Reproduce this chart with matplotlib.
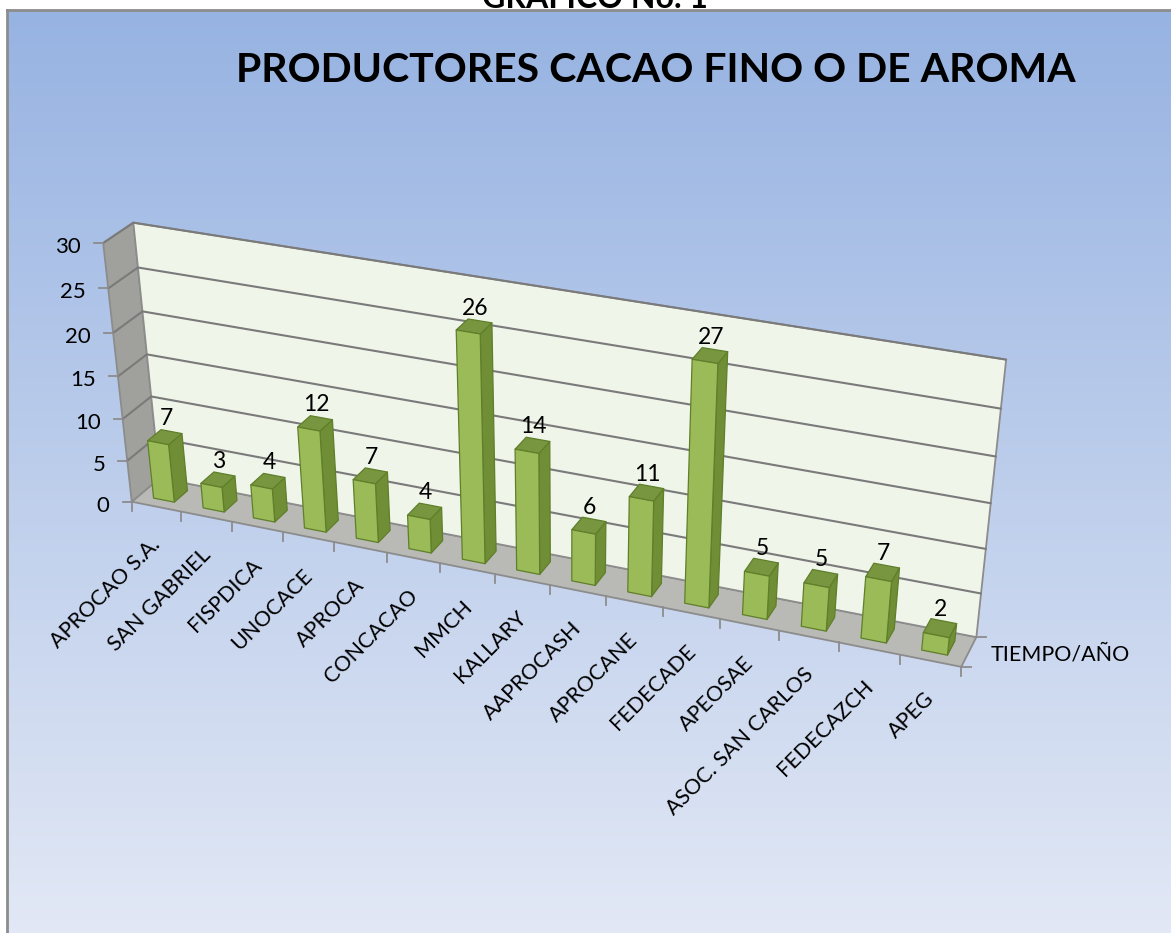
import numpy as np
import matplotlib.pyplot as plt
from matplotlib.patches import Polygon
from matplotlib.colors import LinearSegmentedColormap

# Datos del gráfico
productores = ['APROCAO S.A.', 'SAN GABRIEL', 'FISPDICA', 'UNOCACE', 'APROCA', 'CONCACAO',
               'MMCH', 'KALLARY', 'AAPROCASH', 'APROCANE', 'FEDECADE', 'APEOSAE',
               'ASOC. SAN CARLOS', 'FEDECAZCH', 'APEG']
valores = [7, 3, 4, 12, 7, 4, 26, 14, 6, 11, 27, 5, 5, 7, 2]
ticks_y = [0, 5, 10, 15, 20, 25, 30]
serie = 'TIEMPO/AÑO'
titulo = 'PRODUCTORES CACAO FINO O DE AROMA'
encabezado = 'GRAFICO No. 1'

W, H = 1171, 933
ymax = ticks_y[-1]
n = len(productores)

# Calibración de la cámara 3D (cubo unitario -> píxeles de la figura)
anclas_3d = [(0, 0, 0), (0, 1, 0), (0, 0, 1), (0, 1, 1), (1, 0, 0), (1, 1, 0), (1, 1, 1),
             (1/3, 0, 0), (2/3, 0, 0)]
anclas_px = [(131.7, 501), (160, 480), (104, 243), (132.7, 221.7), (961.7, 668),
             (976.7, 635), (1006, 360.7), (386.5, 552), (661.9, 607.6)]

A, b = [], []
for (X, Y, Z), (u, v) in zip(anclas_3d, anclas_px):
    A.append([X, Y, Z, 1, 0, 0, 0, 0, -u*X, -u*Y, -u*Z]); b.append(u)
    A.append([0, 0, 0, 0, X, Y, Z, 1, -v*X, -v*Y, -v*Z]); b.append(v)
p = np.linalg.lstsq(np.array(A), np.array(b), rcond=None)[0]
P = np.append(p, 1).reshape(3, 4)


def proy(x, prof, z):
    h = P @ np.array([x, prof, z, 1.0])
    return h[0] / h[2], h[1] / h[2]


def poligono(ax, puntos, color, borde, lw=1.0, z=2):
    ax.add_patch(Polygon([proy(*q) for q in puntos], closed=True, facecolor=color,
                         edgecolor=borde, linewidth=lw, joinstyle='round', zorder=z))


fig = plt.figure(figsize=(W / 100, H / 100), dpi=100)
fig.patch.set_facecolor('white')
ax = fig.add_axes([0, 0, 1, 1])
ax.set_xlim(0, W)
ax.set_ylim(H, 0)
ax.axis('off')

plt.rcParams['font.family'] = ['Lato', 'DejaVu Sans']

# fondo degradado del área del gráfico
fondo = LinearSegmentedColormap.from_list('fondo', ['#97B3E2', '#E2E8F5'])
ax.imshow(np.linspace(0, 1, 256)[:, None], extent=(7, W, H, 10), cmap=fondo,
          aspect='auto', zorder=0)
ax.plot([7, 7], [H, 10], color='#8C8C8C', lw=2, zorder=1)
ax.plot([7, W], [10, 10], color='#8C8C8C', lw=2, zorder=1)
# encabezado cortado por el borde superior, como en la imagen original
ax.text(595, 8, encabezado, ha='center', va='baseline', fontsize=23, fontweight='bold',
        color='black', zorder=1)

ax.text(656, 70, titulo, ha='center', va='center', fontsize=29.5, fontweight='bold',
        color='black', zorder=5)

# paredes y piso
gris = '#8C8C8C'
poligono(ax, [(0, 0, 0), (1, 0, 0), (1, 1, 0), (0, 1, 0)], '#B9BAB5', gris, 1.3)
poligono(ax, [(0, 0, 0), (0, 1, 0), (0, 1, 1), (0, 0, 1)], '#A0A19C', gris, 1.3)
poligono(ax, [(0, 1, 0), (1, 1, 0), (1, 1, 1), (0, 1, 1)], '#F0F5EA', gris, 1.3)

# líneas de cuadrícula y eje vertical
for t in ticks_y:
    z = t / ymax
    if t > 0:
        xs, ys = zip(proy(0, 0, z), proy(0, 1, z), proy(1, 1, z))
        ax.plot(xs, ys, color='#7A7A7A', lw=1.5, zorder=3, solid_capstyle='round')
    x0, y0 = proy(0, 0, z)
    ax.plot([x0 - 9, x0], [y0, y0], color=gris, lw=1.3, zorder=3)
    ax.text(x0 - 22, y0 + 4, str(t), ha='right', va='center', fontsize=16, zorder=5)

# marcas del eje de categorías
for i in range(n + 1):
    x0, y0 = proy(i / n, 0, 0)
    ax.plot([x0, x0], [y0, y0 + 9], color=gris, lw=1.3, zorder=3)

# eje de profundidad (serie)
for prof in [0, 1]:
    x0, y0 = proy(1, prof, 0)
    ax.plot([x0, x0 + 10], [y0, y0], color=gris, lw=1.3, zorder=3)
xs, ys = proy(1, 0.5, 0)
ax.text(xs + 22, ys + 3, serie, ha='left', va='center', fontsize=15.5, zorder=5)

# columnas 3D
verde, lado, tapa, borde = '#9BBB59', '#6F8E35', '#77963F', '#5F7F2A'
for i, (nombre, val) in enumerate(zip(productores, valores)):
    x0, x1 = (i + 0.29) / n, (i + 0.71) / n
    p0, p1 = 0.27, 0.75
    z = val / ymax
    poligono(ax, [(x1, p0, 0), (x1, p1, 0), (x1, p1, z), (x1, p0, z)], lado, borde, 0.9, 4)
    poligono(ax, [(x0, p0, z), (x1, p0, z), (x1, p1, z), (x0, p1, z)], tapa, borde, 0.9, 4)
    poligono(ax, [(x0, p0, 0), (x1, p0, 0), (x1, p0, z), (x0, p0, z)], verde, borde, 0.9, 4)

    xt, yt = proy((i + 0.5) / n, 0.55, z)
    ax.annotate(str(val), (xt, yt), xytext=(0, 5), textcoords='offset points',
                ha='center', va='bottom', fontsize=16.5, zorder=6)

    xc, yc = proy((i + 0.5) / n, 0, 0)
    ax.text(xc - 6, yc + 28, nombre, rotation=45, rotation_mode='anchor',
            ha='right', va='top', fontsize=15.5, zorder=5)

plt.savefig('out.png', dpi=100)
